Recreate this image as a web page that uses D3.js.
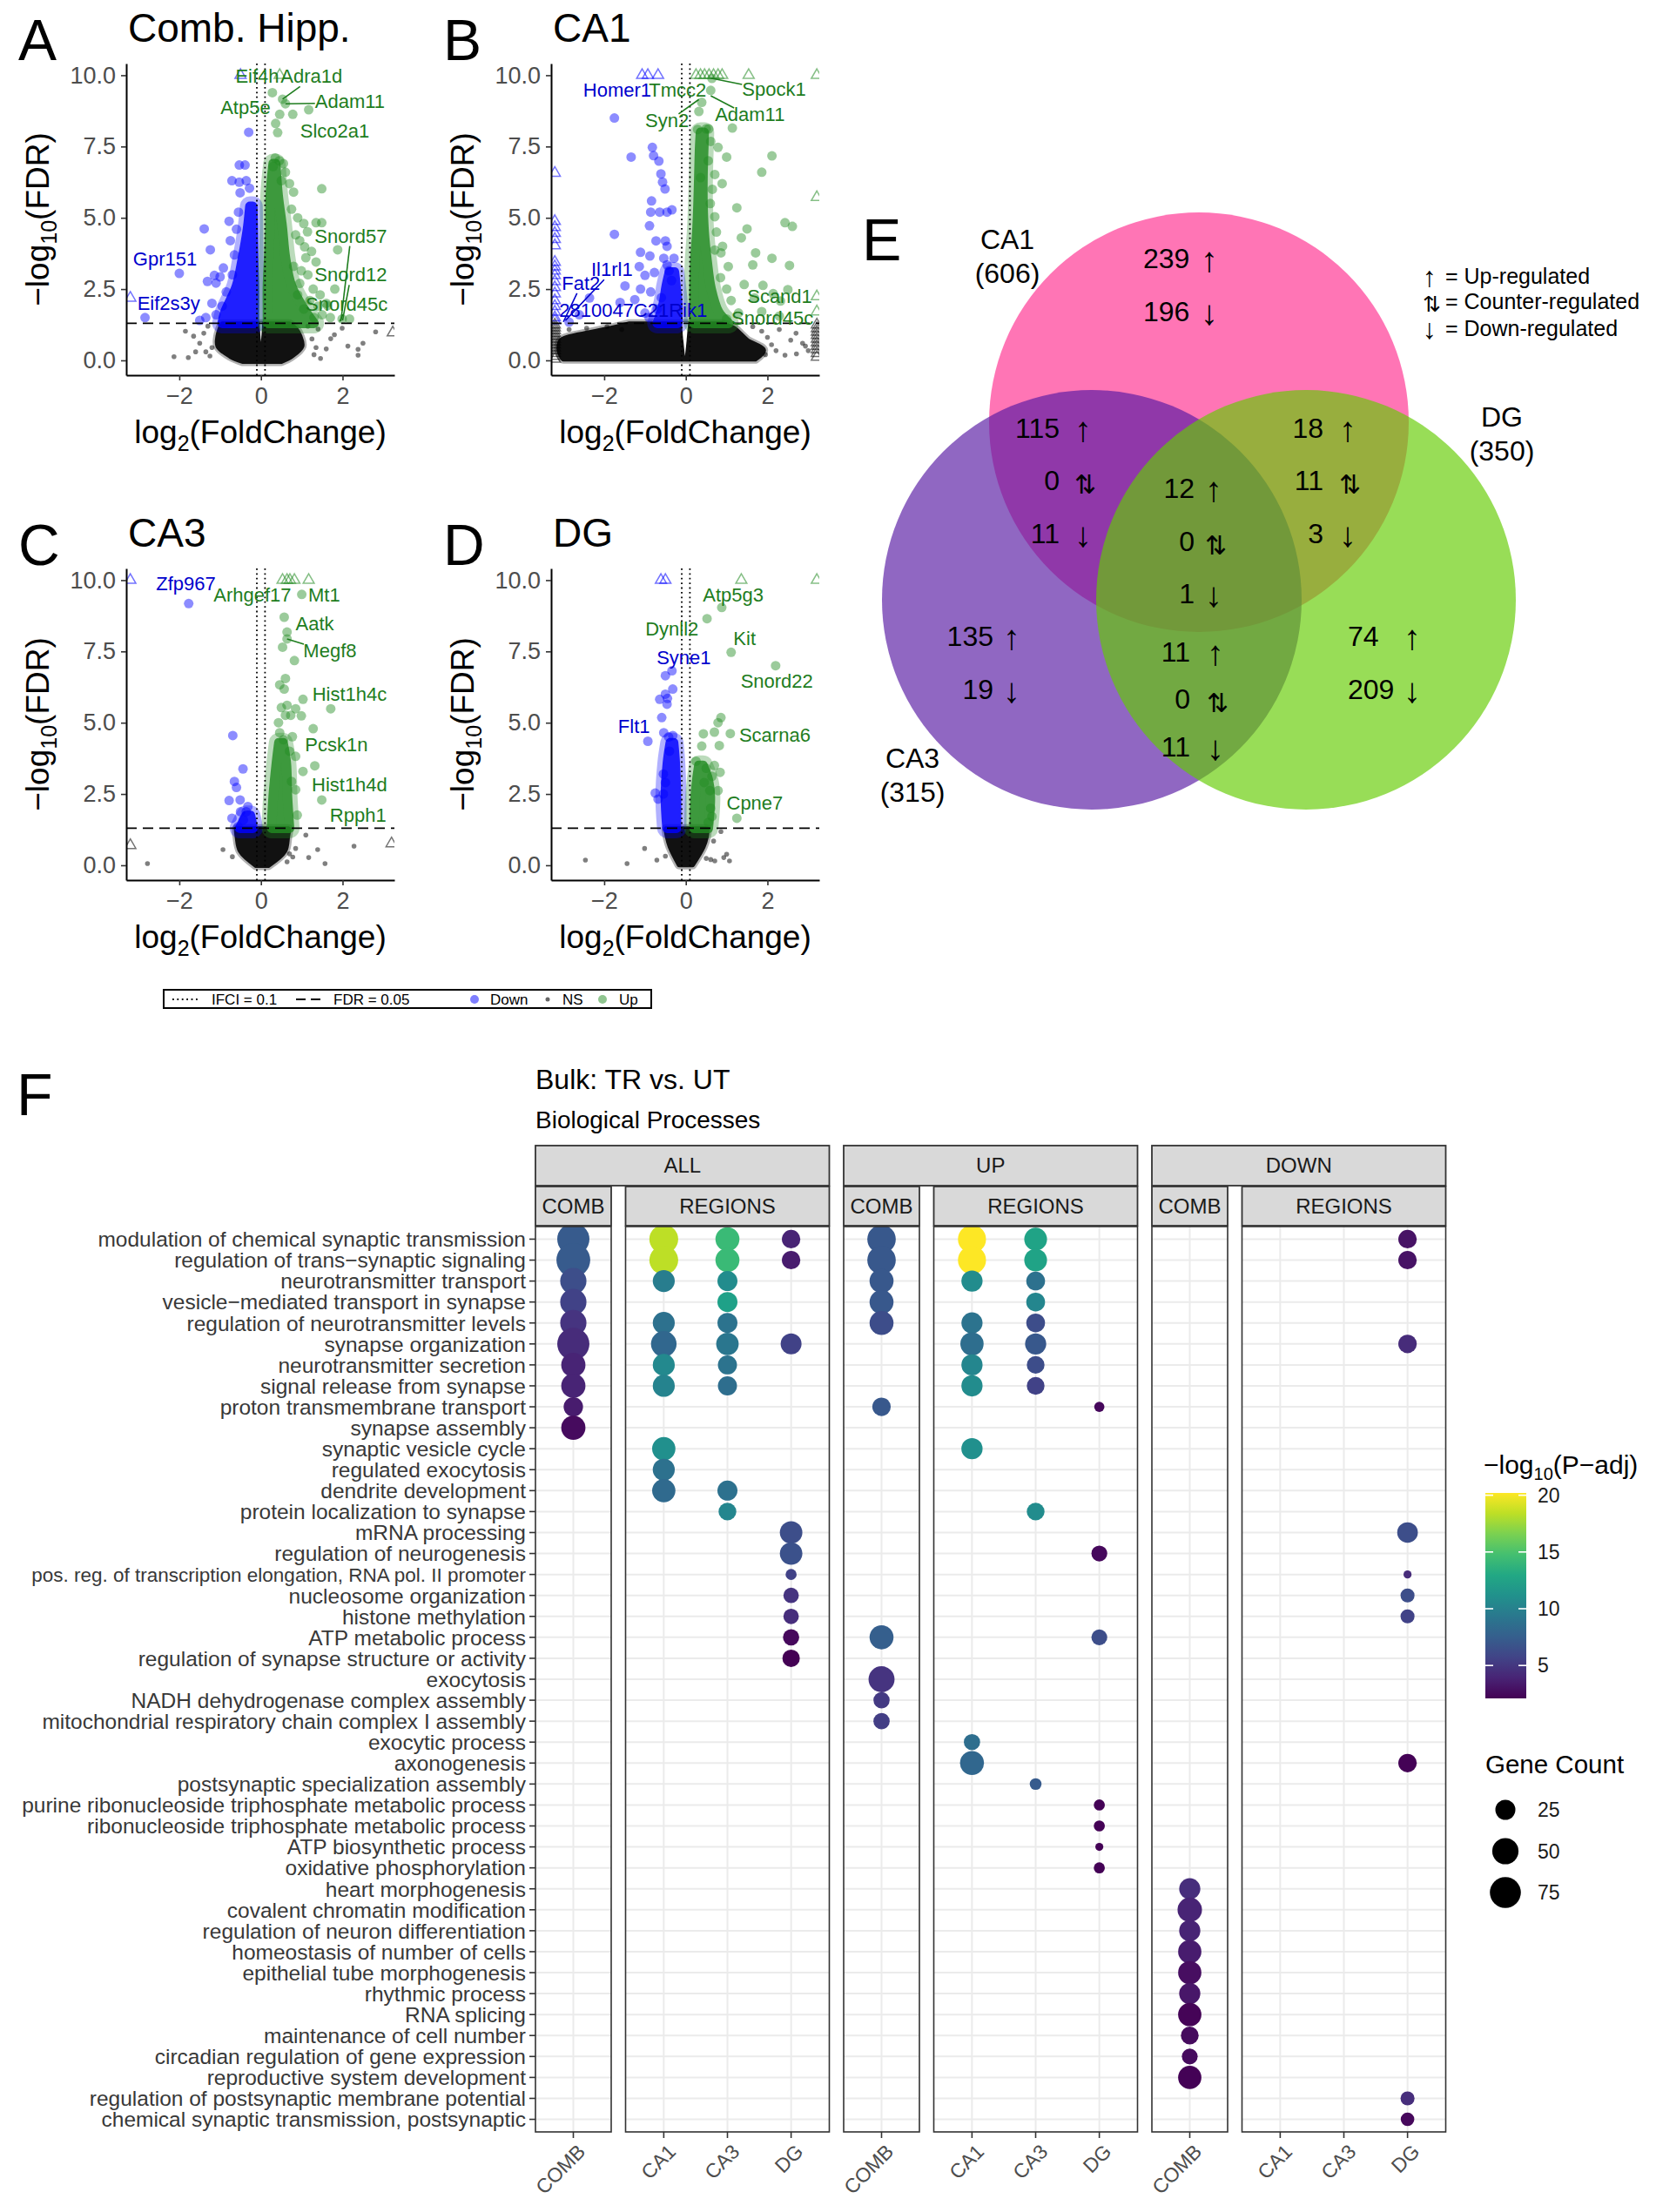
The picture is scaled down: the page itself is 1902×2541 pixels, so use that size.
<!DOCTYPE html>
<html>
<head>
<meta charset="utf-8">
<script src="https://cdn.jsdelivr.net/npm/d3@7"></script>
<style>
  body { margin: 0; background: #fff; }
  text { font-family: "Liberation Sans", Arial, Helvetica, sans-serif; }
</style>
</head>
<body>
<svg id="fig" width="1902" height="2541"></svg>
<script>
// ---------- volcano data: [log2FC, -log10 FDR] ----------
// dense cores: [-log10 FDR, left log2FC, right log2FC]
let nsCoreA = [[-0.03,-0.45,0.5],[0.15,-0.75,0.75],[0.5,-1.05,1.0],[0.85,-1.05,0.95],[1.1,-1.0,0.85],[1.27,-0.95,0.7]];
let nsGapA = [[0.65,0,0],[1.0,-0.02,0.02],[1.35,-0.035,0.035]];
let downCoreA = [[1.3,-0.95,-0.16],[1.7,-0.88,-0.16],[2.6,-0.6,-0.16],[3.6,-0.45,-0.18],[4.6,-0.33,-0.19],[5.4,-0.27,-0.2]];
let upCoreA = [[1.3,0.16,1.3],[1.7,0.16,1.1],[2.6,0.16,0.75],[3.6,0.19,0.6],[4.7,0.22,0.52],[5.8,0.23,0.42],[6.9,0.3,0.36]];
let upPtsA = [[0.28,9.39],[0.53,9.16],[0.6,9.0],[1.17,8.79],[0.78,8.63],[0.46,8.63],[0.36,8.31],[0.41,7.99],
  [1.49,6.02],[1.49,4.83],[1.14,4.51],[1.35,4.83],[1.88,3.88],[1.81,2.5],[2.17,1.45],[1.24,3.82],[1.07,3.98],
  [1.35,3.45],[1.28,2.5],[0.99,3.14],[1.63,1.92],[1.99,1.45],[0.35,7.1],[0.45,7.0],[0.55,6.9],[0.3,6.8],[0.6,6.6],
  [0.7,6.2],[0.5,6.3],[0.8,5.9],[0.75,5.3],[0.9,5.0],[1.05,4.8],[0.85,4.4],[0.95,4.2],[1.1,3.6],[0.8,3.3],[1.15,3.0],
  [0.95,2.7],[1.45,2.3],[1.2,2.1],[1.05,1.8],[1.5,1.6],[1.3,1.5],[0.9,2.3],[1.6,2.0],[1.7,1.5],[1.4,1.9]];
let downPtsA = [[-0.3,8.0],[-1.39,4.61],[-1.24,3.88],[-2.0,3.05],[-2.84,1.5],[-0.71,6.3],[-0.53,6.25],[-0.36,6.3],
  [-0.28,6.04],[-0.51,5.88],[-0.39,6.85],[-0.53,6.85],[-0.78,4.88],[-0.92,3.24],[-1.14,2.98],[-1.31,2.77],[-1.1,2.71],
  [-1.0,2.93],[-0.6,4.6],[-0.75,4.2],[-0.65,3.7],[-0.85,2.4],[-1.2,2.0],[-1.35,1.5],[-1.5,1.4],[-1.1,1.6],[-0.95,1.9],
  [-0.7,3.0],[-0.55,5.2]];
let nsPtsA = [[-2.13,0.13],[-1.78,0.1],[-1.85,1.02],[2.81,1.0],[2.38,0.39],[2.38,0.18],[2.13,0.5],[1.46,0.07],[1.71,0.76],
  [1.99,1.13],[-1.6,0.3],[-1.5,0.6],[1.6,0.4],[1.8,0.9],[1.3,0.2],[-1.65,0.85],[2.5,0.6],[1.4,1.1],[-1.3,1.2],[-1.25,0.15],
  [-1.4,0.95],[-1.2,0.45],[1.25,0.75],[1.15,1.2],[-1.35,0.3],[1.35,0.45]];
let downTriA = [[-0.5,10],[-3.2,2.19]];
let upTriA = [[0.46,10]];
let nsTriA = [[3.23,0.97]];
// labels: [gene, class, label log2FC, label -log10 FDR, point log2FC, point -log10 FDR]
let labelsA = [["Eif4h","up",-0.09,9.98],["Adra1d","up",1.24,9.96,0.53,9.16],["Atp5e","up",-0.38,8.87],
  ["Adam11","up",2.18,9.1,0.6,9.0],["Slco2a1","up",1.81,8.05],["Snord57","up",2.2,4.37,1.96,1.38],
  ["Snord12","up",2.2,3.0,2.0,1.4],["Snord45c","up",2.1,1.97,1.93,1.36],["Gpr151","down",-2.35,3.56],
  ["Eif2s3y","down",-2.26,2.0]];

let nsCoreB = [[0.05,-3.0,1.7],[0.35,-3.1,1.9],[0.7,-3.05,1.5],[0.9,-2.6,1.35],[1.1,-1.9,1.2],[1.27,-1.4,0.9]];
let nsGapB = [[0.15,-0.02,-0.02],[0.7,-0.06,0.02],[1.35,-0.1,0.06]];
let downCoreB = [[1.3,-0.7,-0.2],[2.0,-0.55,-0.2],[2.6,-0.48,-0.24],[3.1,-0.4,-0.28]];
let upCoreB = [[1.3,0.2,1.05],[1.7,0.2,0.8],[2.5,0.2,0.62],[3.5,0.22,0.52],[4.5,0.27,0.45],[5.5,0.3,0.42],[6.5,0.32,0.42],[7.5,0.34,0.44],[8.0,0.36,0.45]];
let downPtsB = [[-1.75,8.5],[-1.34,7.13],[-0.82,7.47],[-0.79,7.18],[-0.66,6.99],[-0.61,6.54],[-0.57,6.25],[-0.51,6.01],
  [-0.84,5.59],[-0.86,5.2],[-0.64,5.2],[-0.46,5.2],[-0.34,5.28],[-0.89,4.72],[-1.75,4.42],[-0.73,4.19],[-0.5,4.19],
  [-0.46,4.0],[-1.11,3.79],[-0.88,3.66],[-0.54,3.58],[-0.29,3.58],[-0.46,3.35],[-1.14,3.29],[-1.0,2.98],[-0.77,3.08],
  [-0.41,3.14],[-1.49,2.61],[-1.11,2.5],[-0.86,2.4],[-2.36,2.19],[-1.25,2.13],[-1.61,2.03],[-1.0,1.66],[-2.86,1.34],
  [-2.61,1.6],[-0.6,2.2],[-0.7,1.8],[-0.9,1.5],[-0.35,2.8]];
let upPtsB = [[0.64,9.89],[0.61,9.47],[0.39,9.05],[0.32,8.73],[0.5,8.12],[0.56,8.12],[0.29,8.1],[1.14,8.15],[0.61,7.68],
  [0.79,7.47],[1.0,7.13],[2.11,7.17],[1.86,6.6],[0.71,6.52],[0.89,6.2],[0.36,6.41],[1.25,5.35],[0.71,5.04],[1.5,4.61],
  [2.43,4.83],[2.61,4.7],[1.36,4.3],[1.71,3.77],[1.64,3.35],[2.11,3.58],[2.54,3.33],[1.04,3.29],[0.86,3.77],[0.71,3.87],
  [1.43,2.66],[1.89,2.63],[2.5,2.48],[2.14,2.34],[1.68,2.19],[1.11,2.1],[2.32,2.08],[1.29,1.66],[1.86,1.71],[2.29,1.55],
  [1.0,1.45],[0.55,7.0],[0.65,6.0],[0.6,5.5],[0.75,4.5],[0.9,4.0],[0.85,2.9],[1.0,2.5]];
let nsPtsB = [[2.57,0.71],[2.93,0.5],[2.71,0.23],[2.21,0.34],[1.86,1.02],[2.0,0.81],[2.43,0.18],[3.0,0.34],[2.86,0.6],
  [1.64,1.18],[2.29,1.08],[-2.86,1.08],[-2.43,1.13],[-1.93,1.18],[-1.57,1.08],[2.1,0.55],[1.95,0.2],[2.7,0.95]];
let downTriB = [[-1.07,10],[-0.93,10],[-0.68,10],[-3.21,6.57],[-3.21,4.88],[-3.21,4.67],[-3.21,4.46],[-3.21,4.25],
  [-3.21,4.03],[-3.21,3.45],[-3.21,3.29],[-3.21,3.14],[-3.21,2.98],[-3.21,2.77],[-3.21,2.56],[-3.21,2.34],[-3.21,2.1],
  [-3.21,1.9],[-3.21,1.7],[-3.21,1.5],[-3.21,1.4]];
let upTriB = [[0.25,10],[0.36,10],[0.46,10],[0.57,10],[0.68,10],[0.79,10],[0.89,10],[1.54,10],[3.21,10],[3.21,5.72],[3.21,2.24],[3.21,1.71]];
let nsTriB = [[3.21,1.25],[3.21,1.12],[3.21,1.0],[3.21,0.88],[3.21,0.75],[3.21,0.62],[3.21,0.5],[3.21,0.38],[3.21,0.25],
  [3.21,0.12],[-3.21,1.25],[-3.21,1.15],[-3.21,1.05],[-3.21,0.95],[-3.21,0.85],[-3.21,0.75],[-3.21,0.65],[-3.21,0.55],
  [-3.21,0.45],[-3.21,0.35],[-3.21,0.25],[-3.21,0.15],[-3.21,0.05]];
let labelsB = [["Homer1","down",-1.68,9.47],["Tmcc2","up",-0.2,9.47],["Spock1","up",2.16,9.52,0.61,9.9],
  ["Syn2","up",-0.46,8.42,0.32,9.15],["Adam11","up",1.57,8.63,0.61,9.28],["Il1rl1","down",-1.81,3.19,-2.95,1.4],
  ["Fat2","down",-2.57,2.71,-3.0,1.35],["2810047C21Rik1","down",-1.29,1.76],["Scand1","up",2.3,2.26],
  ["Snord45c","up",2.12,1.5]];

let nsCoreC = [[0.0,-0.12,0.18],[0.5,-0.5,0.58],[1.0,-0.58,0.65],[1.27,-0.6,0.68]];
let downCoreC = [[1.3,-0.52,-0.2],[1.5,-0.45,-0.22],[1.75,-0.36,-0.26]];
let upCoreC = [[1.3,0.26,0.7],[2.4,0.3,0.65],[3.6,0.38,0.62],[4.3,0.44,0.54]];
let downPtsC = [[-1.77,9.18],[-0.69,4.55],[-0.44,3.38],[-0.65,2.94],[-0.6,2.73],[-0.78,2.27],[-0.51,2.29],[-0.32,2.06],
  [-0.71,1.65],[-0.5,1.88],[-0.36,1.88],[-0.43,1.59],[-0.56,1.35]];
let upPtsC = [[1.0,9.5],[0.57,8.7],[0.64,8.18],[0.64,7.94],[0.53,7.65],[0.82,7.18],[0.6,6.55],[0.46,6.33],[0.57,6.18],
  [1.03,5.82],[1.71,5.49],[0.5,5.53],[0.64,5.61],[0.85,5.49],[0.99,5.24],[0.43,5.0],[0.6,5.26],[0.73,5.26],[1.28,4.79],
  [0.77,4.51],[0.46,4.65],[1.32,3.49],[1.03,3.29],[0.85,3.82],[0.75,2.94],[0.85,2.65],[1.49,2.29],[0.89,1.76],[0.7,4.0],[0.55,4.4]];
let nsPtsC = [[-0.93,0.55],[-2.78,0.06],[1.1,1.06],[0.85,0.59],[0.78,0.29],[0.64,0.12],[1.17,0.27],[1.39,0.55],[1.57,0.06],
  [2.28,0.67],[0.7,0.4],[-0.7,0.3]];
let downTriC = [[-3.2,10]];
let upTriC = [[0.53,10],[0.64,10],[0.71,10],[0.82,10],[1.17,10]];
let nsTriC = [[-3.2,0.7],[3.2,0.76]];
let labelsC = [["Zfp967","down",-1.84,9.88],["Arhgef17","up",-0.21,9.47],["Mt1","up",1.55,9.47],["Aatk","up",1.32,8.49],
  ["Megf8","up",1.69,7.53,0.64,7.94],["Hist1h4c","up",2.17,6.0],["Pcsk1n","up",1.85,4.24],["Hist1h4d","up",2.17,2.82],
  ["Rpph1","up",2.38,1.76]];

let nsCoreD = [[0.02,-0.16,0.16],[0.65,-0.38,0.42],[1.0,-0.45,0.5],[1.27,-0.48,0.52]];
let downCoreD = [[1.3,-0.46,-0.23],[2.4,-0.5,-0.23],[3.6,-0.45,-0.26],[4.3,-0.38,-0.3]];
let upCoreD = [[1.3,0.2,0.55],[2.4,0.23,0.6],[3.0,0.27,0.55],[3.5,0.32,0.42]];
let downPtsD = [[-0.5,6.65],[-0.34,6.82],[-0.32,6.18],[-0.5,6.0],[-0.64,5.82],[-0.46,5.65],[-0.59,5.18],[-0.93,4.35],
  [-0.54,4.65],[-0.32,4.55],[-0.42,4.5],[-0.75,2.53],[-0.68,2.32],[-0.55,2.5],[-0.45,5.85],[-0.4,4.0],[-0.55,3.2],[-0.5,2.9]];
let upPtsD = [[0.88,9.04],[0.52,8.65],[1.11,7.47],[2.2,7.0],[0.86,5.18],[0.79,5.0],[0.7,4.67],[1.09,4.62],[0.43,4.61],
  [0.82,4.2],[0.39,4.18],[0.25,3.65],[0.84,3.26],[0.64,3.12],[0.79,2.62],[0.59,2.62],[1.25,1.65],[0.61,2.0],[0.64,1.71],
  [0.5,3.4],[0.7,3.5],[0.45,2.9],[0.55,1.5]];
let nsPtsD = [[-2.46,0.18],[-1.44,0.06],[-1.01,0.59],[-0.71,0.18],[-0.5,0.32],[0.68,0.85],[0.86,1.18],[0.93,0.27],
  [1.0,0.39],[1.07,0.15],[0.5,0.24],[0.61,0.2],[0.71,0.15]];
let downTriD = [[-0.61,10],[-0.5,10]];
let upTriD = [[1.36,10],[3.21,10]];
let labelsD = [["Atp5g3","up",1.16,9.49],["Dynll2","up",-0.34,8.29],["Kit","up",1.44,7.96],["Syne1","down",-0.05,7.29],
  ["Snord22","up",2.23,6.45],["Flt1","down",-1.27,4.88],["Scarna6","up",2.18,4.56],["Cpne7","up",1.69,2.18]];

let fcDomain = [-3.3, 3.27];
let fdrDomain = [-0.52, 10.41];
let fdrTicks = [0, 2.5, 5, 7.5, 10];
let fcTicks = [-2, 0, 2];
let fcCut = 0.1;
let fdrCut = 1.301;

// ---------- Venn data ----------
let vennSets = ["CA1", "CA3", "DG"];
let vennTotals = [606, 315, 350];
let vennRegions = ["CA1", "CA1&CA3", "CA1&DG", "CA1&CA3&DG", "CA3", "CA3&DG", "DG"];
let vennUp = [239, 115, 18, 12, 135, 11, 74];
let vennCounter = [null, 0, 11, 0, null, 0, null];
let vennDown = [196, 11, 3, 1, 19, 11, 209];

// ---------- GO dot plot data ----------
let goTerms = ["modulation of chemical synaptic transmission","regulation of trans\u2212synaptic signaling",
  "neurotransmitter transport","vesicle\u2212mediated transport in synapse","regulation of neurotransmitter levels",
  "synapse organization","neurotransmitter secretion","signal release from synapse","proton transmembrane transport",
  "synapse assembly","synaptic vesicle cycle","regulated exocytosis","dendrite development",
  "protein localization to synapse","mRNA processing","regulation of neurogenesis",
  "pos. reg. of transcription elongation, RNA pol. II promoter","nucleosome organization","histone methylation",
  "ATP metabolic process","regulation of synapse structure or activity","exocytosis",
  "NADH dehydrogenase complex assembly","mitochondrial respiratory chain complex I assembly","exocytic process",
  "axonogenesis","postsynaptic specialization assembly","purine ribonucleoside triphosphate metabolic process",
  "ribonucleoside triphosphate metabolic process","ATP biosynthetic process","oxidative phosphorylation",
  "heart morphogenesis","covalent chromatin modification","regulation of neuron differentiation",
  "homeostasis of number of cells","epithelial tube morphogenesis","rhythmic process","RNA splicing",
  "maintenance of cell number","circadian regulation of gene expression","reproductive system development",
  "regulation of postsynaptic membrane potential","chemical synaptic transmission, postsynaptic"];
// [term number, column, -log10(P-adj), gene count]
let allDots = [[1,"COMB",7.2,82],[2,"COMB",7.2,92],[3,"COMB",6.4,50],[4,"COMB",5.7,50],[5,"COMB",4.8,50],
  [6,"COMB",4.3,82],[7,"COMB",3.9,41],[8,"COMB",3.9,41],[9,"COMB",3.5,23],[10,"COMB",2.6,41],
  [1,"CA1",18.4,63],[2,"CA1",18.4,63],[3,"CA1",9.7,32],[5,"CA1",8.8,32],[6,"CA1",8.1,47],[7,"CA1",10.6,32],
  [8,"CA1",10.2,32],[11,"CA1",11.1,37],[12,"CA1",8.8,32],[13,"CA1",8.3,37],
  [1,"CA3",14.4,40],[2,"CA3",14.4,40],[3,"CA3",10.8,25],[4,"CA3",12.4,25],[5,"CA3",9.0,25],[6,"CA3",9.2,34],
  [7,"CA3",9.0,22],[8,"CA3",8.6,22],[13,"CA3",8.8,25],[14,"CA3",10.4,18],
  [1,"DG",3.9,20],[2,"DG",3.5,20],[6,"DG",5.7,28],[15,"DG",6.4,34],[16,"DG",6.6,34],[17,"DG",5.7,4],
  [18,"DG",4.8,12],[19,"DG",4.5,12],[20,"DG",2.5,14],[21,"DG",2.1,17]];
let upDots = [[1,"COMB",7.0,61],[2,"COMB",7.0,61],[3,"COMB",7.0,40],[4,"COMB",7.0,40],[5,"COMB",6.3,40],
  [9,"COMB",7.0,20],[20,"COMB",7.5,40],[22,"COMB",4.8,49],[23,"COMB",5.2,14],[24,"COMB",5.4,14],
  [1,"CA1",20.2,59],[2,"CA1",20.2,59],[3,"CA1",10.8,29],[5,"CA1",9.0,29],[6,"CA1",8.6,37],[7,"CA1",10.4,29],
  [8,"CA1",10.8,29],[11,"CA1",11.1,29],[25,"CA1",8.6,14],[26,"CA1",8.1,40],
  [1,"CA3",12.6,35],[2,"CA3",12.6,35],[3,"CA3",8.8,21],[4,"CA3",10.4,21],[5,"CA3",6.3,21],[6,"CA3",7.0,29],
  [7,"CA3",6.3,18],[8,"CA3",5.7,18],[14,"CA3",10.8,18],[27,"CA3",7.2,5],
  [9,"DG",2.5,3],[16,"DG",2.5,13],[20,"DG",6.4,13],[28,"DG",2.2,4],[29,"DG",2.2,4],[30,"DG",2.2,1],[31,"DG",2.2,4]];
let downDots = [[32,"COMB",4.5,29],[33,"COMB",3.9,42],[34,"COMB",3.9,29],[35,"COMB",3.5,37],[36,"COMB",2.8,37],
  [37,"COMB",3.2,29],[38,"COMB",2.3,37],[39,"COMB",2.6,18],[40,"COMB",2.6,13],[41,"COMB",2.2,37],
  [1,"DG",3.0,20],[2,"DG",3.0,20],[6,"DG",4.3,20],[15,"DG",6.4,27],[17,"DG",4.3,1],[18,"DG",6.4,9],
  [19,"DG",5.7,9],[26,"DG",2.2,20],[42,"DG",4.5,9],[43,"DG",2.5,8]];
let groupNames = ["ALL", "UP", "DOWN"];
let regionCols = ["CA1", "CA3", "DG"];
let padjRange = [2.1, 20.2];
let padjTicks = [5, 10, 15, 20];
let countBreaks = [25, 50, 75];

// ---------- drawing ----------
let svg = d3.select("#fig");
svg.append("rect").attr("width", 1902).attr("height", 2541).attr("fill", "#fff");
let defs = svg.append("defs");
let BLUE = "#0000FF", GREEN = "#228B22", BLUE_TXT = "#0000CD", GREEN_TXT = "#1E7D1E";

function styleAxis(a, fs) {
    a.select(".domain").attr("stroke", "#000").attr("stroke-width", 2);
    a.selectAll(".tick line").attr("stroke", "#333").attr("stroke-width", 1.6);
    a.selectAll(".tick text").attr("fill", "#4D4D4D").attr("font-size", fs)
        .attr("font-family", "'Liberation Sans', Arial, sans-serif");
}

function drawVolcano(p) {
    let w = 308, h = 358;
    let x = d3.scaleLinear().domain(fcDomain).range([0, w]);
    let y = d3.scaleLinear().domain(fdrDomain).range([h, 0]);
    let g = svg.append("g").attr("transform", "translate(" + p.left + "," + p.top + ")");
    defs.append("clipPath").attr("id", "clip" + p.key).append("rect").attr("width", w).attr("height", h);
    let plot = g.append("g").attr("clip-path", "url(#clip" + p.key + ")");
    let area = d3.area().curve(d3.curveCatmullRom).y(d => y(d[0])).x0(d => x(d[1])).x1(d => x(d[2]));
    // a dense cloud: soft halo of half-transparent dots plus a solid centre
    let core = (data, col, sw, halo, op) => {
        plot.append("path").datum(data).attr("d", area)
            .attr("fill", col).attr("stroke", col).attr("stroke-width", sw + halo)
            .attr("stroke-linejoin", "round").attr("opacity", 0.3);
        plot.append("path").datum(data).attr("d", area)
            .attr("fill", col).attr("stroke", col).attr("stroke-width", sw)
            .attr("stroke-linejoin", "round").attr("opacity", op);
    };
    let dots = (data, col, r, op) => plot.append("g").selectAll("circle").data(data).join("circle")
        .attr("cx", d => x(d[0])).attr("cy", d => y(d[1])).attr("r", r)
        .attr("fill", col).attr("fill-opacity", op);
    let tri = d3.symbol(d3.symbolTriangle, 70);
    let tris = (data, col) => plot.append("g").selectAll("path").data(data).join("path")
        .attr("transform", d => "translate(" + x(d[0]) + "," + y(d[1]) + ")").attr("d", tri)
        .attr("fill", "none").attr("stroke", col).attr("stroke-opacity", 0.55).attr("stroke-width", 1.5);

    core(p.nsCore, "#000", 6, 5, 0.9);
    if (p.nsGap) plot.append("path").datum(p.nsGap).attr("d", area).attr("fill", "#fff");
    dots(p.nsPts, "#000", 2.8, 0.5);
    tris(p.nsTri, "#000");
    core(p.downCore, BLUE, 11, 12, 0.82);
    core(p.upCore, GREEN, 11, 12, 0.82);
    dots(p.downPts, BLUE, 5.5, 0.45);
    dots(p.upPts, GREEN, 5.5, 0.45);
    tris(p.downTri, BLUE);
    tris(p.upTri, GREEN);

    plot.selectAll("line.fc").data([-fcCut, fcCut]).join("line")
        .attr("x1", d => x(d)).attr("x2", d => x(d)).attr("y1", 0).attr("y2", h)
        .attr("stroke", "#000").attr("stroke-width", 1.8).attr("stroke-dasharray", "1.8,3.6");
    plot.append("line").attr("x1", 0).attr("x2", w).attr("y1", y(fdrCut)).attr("y2", y(fdrCut))
        .attr("stroke", "#000").attr("stroke-width", 1.8).attr("stroke-dasharray", "12,7");

    p.labels.forEach(l => {
        let col = l[1] == "up" ? GREEN_TXT : BLUE_TXT;
        let t = plot.append("text").attr("x", x(l[2])).attr("y", y(l[3])).attr("dy", "0.35em")
            .attr("text-anchor", "middle").attr("font-size", 22).attr("fill", col).text(l[0]);
        if (l.length > 4) {
            let b = t.node().getBBox();
            let px = x(l[4]), py = y(l[5]);
            let cx = b.x + b.width / 2, cy = b.y + b.height / 2 + 2;
            let dx = cx - px, dy = cy - py;
            let s = Math.min(b.width / 2 / Math.max(Math.abs(dx), 1e-6), (b.height / 2 - 3) / Math.max(Math.abs(dy), 1e-6));
            plot.append("line").attr("x1", px).attr("y1", py).attr("x2", cx - dx * s).attr("y2", cy - dy * s)
                .attr("stroke", col).attr("stroke-width", 1.6);
        }
    });

    let ya = g.append("g").call(d3.axisLeft(y).tickValues(fdrTicks).tickFormat(d3.format(".1f"))
        .tickSize(6).tickSizeOuter(0).tickPadding(6));
    styleAxis(ya, 27);
    let xa = g.append("g").attr("transform", "translate(0," + h + ")")
        .call(d3.axisBottom(x).tickValues(fcTicks).tickFormat(d => d < 0 ? "\u2212" + (-d) : d)
        .tickSize(6).tickSizeOuter(0).tickPadding(8));
    styleAxis(xa, 27);

    svg.append("text").attr("x", p.left - 124).attr("y", p.top - 4).attr("font-size", 66).text(p.key);
    svg.append("text").attr("x", p.left + 2).attr("y", p.top - 25).attr("font-size", 46).text(p.title);

    let xt = svg.append("text").attr("x", p.left + w / 2).attr("y", p.top + h + 78)
        .attr("text-anchor", "middle").attr("font-size", 37);
    xt.append("tspan").text("log");
    xt.append("tspan").attr("font-size", 25).attr("dy", 9).text("2");
    xt.append("tspan").attr("dy", -9).text("(FoldChange)");
    let yt = svg.append("text").attr("transform", "translate(" + (p.left - 89) + "," + (p.top + h / 2) + ") rotate(-90)")
        .attr("text-anchor", "middle").attr("font-size", 37);
    yt.append("tspan").text("\u2212log");
    yt.append("tspan").attr("font-size", 25).attr("dy", 9).text("10");
    yt.append("tspan").attr("dy", -9).text("(FDR)");
}

let volcanoPanels = [
    {key: "A", title: "Comb. Hipp.", left: 145, top: 73, nsCore: nsCoreA, nsGap: nsGapA, downCore: downCoreA, upCore: upCoreA,
     nsPts: nsPtsA, downPts: downPtsA, upPts: upPtsA, nsTri: nsTriA, downTri: downTriA, upTri: upTriA, labels: labelsA},
    {key: "B", title: "CA1", left: 633, top: 73, nsCore: nsCoreB, nsGap: nsGapB, downCore: downCoreB, upCore: upCoreB,
     nsPts: nsPtsB, downPts: downPtsB, upPts: upPtsB, nsTri: nsTriB, downTri: downTriB, upTri: upTriB, labels: labelsB},
    {key: "C", title: "CA3", left: 145, top: 653, nsCore: nsCoreC, downCore: downCoreC, upCore: upCoreC,
     nsPts: nsPtsC, downPts: downPtsC, upPts: upPtsC, nsTri: nsTriC, downTri: downTriC, upTri: upTriC, labels: labelsC},
    {key: "D", title: "DG", left: 633, top: 653, nsCore: nsCoreD, downCore: downCoreD, upCore: upCoreD,
     nsPts: nsPtsD, downPts: downPtsD, upPts: upPtsD, nsTri: [], downTri: downTriD, upTri: upTriD, labels: labelsD}
];
volcanoPanels.forEach(drawVolcano);

// volcano legend
let vl = svg.append("g");
vl.append("rect").attr("x", 188).attr("y", 1137).attr("width", 560).attr("height", 21)
    .attr("fill", "#fff").attr("stroke", "#000").attr("stroke-width", 2);
vl.append("line").attr("x1", 198).attr("x2", 229).attr("y1", 1148).attr("y2", 1148)
    .attr("stroke", "#000").attr("stroke-width", 1.8).attr("stroke-dasharray", "1.8,3.6");
vl.append("line").attr("x1", 340).attr("x2", 368).attr("y1", 1148).attr("y2", 1148)
    .attr("stroke", "#000").attr("stroke-width", 1.8).attr("stroke-dasharray", "11,6");
vl.append("circle").attr("cx", 545).attr("cy", 1148).attr("r", 5).attr("fill", BLUE).attr("fill-opacity", 0.5);
vl.append("circle").attr("cx", 629).attr("cy", 1148).attr("r", 2.5).attr("fill", "#000").attr("fill-opacity", 0.6);
vl.append("circle").attr("cx", 692).attr("cy", 1148).attr("r", 5).attr("fill", GREEN).attr("fill-opacity", 0.5);
[["IFCI = 0.1", 243], ["FDR = 0.05", 383], ["Down", 563], ["NS", 646], ["Up", 711]].forEach(d => {
    vl.append("text").attr("x", d[1]).attr("y", 1154).attr("font-size", 17).text(d[0]);
});

// ---------- Venn (E) ----------
let vennCenter = {CA1: [1377, 485], CA3: [1254, 689], DG: [1500, 689]};
let vennR = 241;
let vennFill = d3.scaleOrdinal().domain(vennSets).range(["#FF2E8F", "#5719A3", "#63CB00"]);
svg.append("g").selectAll("circle").data(vennSets).join("circle")
    .attr("cx", d => vennCenter[d][0]).attr("cy", d => vennCenter[d][1]).attr("r", vennR)
    .attr("fill", d => vennFill(d)).attr("fill-opacity", 0.66);
svg.append("text").attr("x", 990).attr("y", 299).attr("font-size", 68).text("E");
let vennSetLabel = {CA1: [1157, 286], CA3: [1048, 882], DG: [1725, 490]};
vennSets.forEach((s, i) => {
    let t = svg.append("text").attr("text-anchor", "middle").attr("font-size", 32);
    t.append("tspan").attr("x", vennSetLabel[s][0]).attr("y", vennSetLabel[s][1]).text(s);
    t.append("tspan").attr("x", vennSetLabel[s][0]).attr("y", vennSetLabel[s][1] + 39).text("(" + vennTotals[i] + ")");
});
let vennLayout = {
    "CA1": {nx: 1313, anchor: "start", ax: 1379, ys: [308, 369]},
    "CA1&CA3": {nx: 1217, anchor: "end", ax: 1234, ys: [503, 563, 624]},
    "CA1&DG": {nx: 1520, anchor: "end", ax: 1538, ys: [503, 563, 624]},
    "CA1&CA3&DG": {nx: 1372, anchor: "end", ax: 1384, ys: [572, 633, 693]},
    "CA3": {nx: 1141, anchor: "end", ax: 1152, ys: [742, 803]},
    "CA3&DG": {nx: 1367, anchor: "end", ax: 1386, ys: [760, 814, 869]},
    "DG": {nx: 1548, anchor: "start", ax: 1612, ys: [742, 803]}
};
vennRegions.forEach((r, i) => {
    let L = vennLayout[r];
    let rows = [[vennUp[i], "\u2191"]];
    if (vennCounter[i] !== null) rows.push([vennCounter[i], "\u21C5"]);
    rows.push([vennDown[i], "\u2193"]);
    rows.forEach((row, k) => {
        svg.append("text").attr("x", L.nx).attr("y", L.ys[k]).attr("text-anchor", L.anchor)
            .attr("font-size", 32).text(row[0]);
        svg.append("text").attr("x", L.ax).attr("y", L.ys[k] + 4).attr("font-size", row[1] == "\u21C5" ? 30 : 40)
            .text(row[1]);
    });
});
[["\u2191", "= Up-regulated", 326], ["\u21C5", "= Counter-regulated", 355], ["\u2193", "= Down-regulated", 386]].forEach(d => {
    svg.append("text").attr("x", 1634).attr("y", d[2] + 3).attr("font-size", d[0] == "\u21C5" ? 25 : 32).text(d[0]);
    svg.append("text").attr("x", 1660).attr("y", d[2]).attr("font-size", 25).text(d[1]);
});

// ---------- GO dot plot (F) ----------
svg.append("text").attr("x", 19).attr("y", 1281).attr("font-size", 68).text("F");
svg.append("text").attr("x", 615).attr("y", 1251).attr("font-size", 32).text("Bulk: TR vs. UT");
svg.append("text").attr("x", 615).attr("y", 1296).attr("font-size", 28).text("Biological Processes");

let fLeft = 615, combW = 87, regW = 234, innerGap = 16.5, groupStep = 354;
let fTop = 1409, fBottom = 2449;
let yTerm = d3.scalePoint().domain(goTerms).range([fTop, fBottom]).padding(0.6);
let color = d3.scaleSequential(d3.interpolateViridis).domain(padjRange);
let size = d3.scaleSqrt().domain([25, 75]).range([11.5, 17.8]);
let groupDots = {ALL: allDots, UP: upDots, DOWN: downDots};

groupNames.forEach((gn, gi) => {
    let combL = fLeft + gi * groupStep;
    let regL = combL + combW + innerGap;
    let facets = [{name: "COMB", l: combL, w: combW, cols: ["COMB"]},
                  {name: "REGIONS", l: regL, w: regW, cols: regionCols}];
    facets.forEach(f => {
        let x = d3.scalePoint().domain(f.cols).range([f.l, f.l + f.w]).padding(0.6);
        let pg = svg.append("g");
        pg.selectAll("line.h").data(goTerms).join("line")
            .attr("x1", f.l).attr("x2", f.l + f.w).attr("y1", d => yTerm(d)).attr("y2", d => yTerm(d))
            .attr("stroke", "#EBEBEB").attr("stroke-width", 2);
        pg.selectAll("line.v").data(f.cols).join("line")
            .attr("x1", d => x(d)).attr("x2", d => x(d)).attr("y1", fTop).attr("y2", fBottom)
            .attr("stroke", "#EBEBEB").attr("stroke-width", 2);
        pg.selectAll("circle").data(groupDots[gn].filter(d => f.cols.includes(d[1]))).join("circle")
            .attr("cx", d => x(d[1])).attr("cy", d => yTerm(goTerms[d[0] - 1]))
            .attr("r", d => size(d[3])).attr("fill", d => color(d[2]));
        pg.append("rect").attr("x", f.l).attr("y", fTop).attr("width", f.w).attr("height", fBottom - fTop)
            .attr("fill", "none").attr("stroke", "#333").attr("stroke-width", 1.6);
        // strip
        pg.append("rect").attr("x", f.l).attr("y", 1363).attr("width", f.w).attr("height", 45)
            .attr("fill", "#D9D9D9").attr("stroke", "#333").attr("stroke-width", 1.8);
        pg.append("text").attr("x", f.l + f.w / 2).attr("y", 1394).attr("text-anchor", "middle")
            .attr("font-size", 24).attr("fill", "#1A1A1A").text(f.name);
        // x ticks + rotated labels
        pg.selectAll("line.t").data(f.cols).join("line")
            .attr("x1", d => x(d)).attr("x2", d => x(d)).attr("y1", fBottom).attr("y2", fBottom + 7)
            .attr("stroke", "#333").attr("stroke-width", 1.6);
        pg.selectAll("text.xl").data(f.cols).join("text")
            .attr("transform", d => "translate(" + (x(d) + 3) + "," + (fBottom + 12) + ") rotate(-45)")
            .attr("dy", "0.75em").attr("text-anchor", "end").attr("font-size", 23).attr("fill", "#4D4D4D")
            .text(d => d);
    });
    svg.append("rect").attr("x", combL).attr("y", 1316).attr("width", regL + regW - combL).attr("height", 46)
        .attr("fill", "#D9D9D9").attr("stroke", "#333").attr("stroke-width", 1.8);
    svg.append("text").attr("x", (combL + regL + regW) / 2).attr("y", 1347).attr("text-anchor", "middle")
        .attr("font-size", 24).attr("fill", "#1A1A1A").text(gn);
});

// y axis of dot plot (the one very long term is set a little smaller, as in the figure)
let ay = svg.append("g");
ay.selectAll("line").data(goTerms).join("line")
    .attr("x1", fLeft - 7).attr("x2", fLeft).attr("y1", d => yTerm(d)).attr("y2", d => yTerm(d))
    .attr("stroke", "#333").attr("stroke-width", 1.6);
ay.selectAll("text").data(goTerms).join("text")
    .attr("x", fLeft - 11).attr("y", d => yTerm(d)).attr("dy", "0.36em").attr("text-anchor", "end")
    .attr("font-size", d => d.length > 55 ? 22.5 : 24.5).attr("fill", "#383838").text(d => d);

// colour bar legend
let grad = defs.append("linearGradient").attr("id", "vir").attr("x1", 0).attr("y1", 1).attr("x2", 0).attr("y2", 0);
d3.range(0, 1.0001, 0.1).forEach(t => grad.append("stop").attr("offset", t).attr("stop-color", d3.interpolateViridis(t)));
let cbY = d3.scaleLinear().domain(padjRange).range([1951, 1715]);
let ct = svg.append("text").attr("x", 1704).attr("y", 1693).attr("font-size", 30);
ct.append("tspan").text("\u2212log");
ct.append("tspan").attr("font-size", 20).attr("dy", 7).text("10");
ct.append("tspan").attr("dy", -7).text("(P\u2212adj)");
svg.append("rect").attr("x", 1706).attr("y", cbY(padjRange[1])).attr("width", 47)
    .attr("height", cbY(padjRange[0]) - cbY(padjRange[1])).attr("fill", "url(#vir)");
padjTicks.forEach(v => {
    [[1706, 1715], [1744, 1753]].forEach(xx => svg.append("line").attr("x1", xx[0]).attr("x2", xx[1])
        .attr("y1", cbY(v)).attr("y2", cbY(v)).attr("stroke", "#fff").attr("stroke-width", 1.6));
    svg.append("text").attr("x", 1766).attr("y", cbY(v)).attr("dy", "0.36em").attr("font-size", 23)
        .attr("fill", "#1A1A1A").text(v);
});

// size legend
svg.append("text").attr("x", 1706).attr("y", 2037).attr("font-size", 29.5).text("Gene Count");
countBreaks.forEach((c, i) => {
    let cy = 2079 + i * 47.5;
    svg.append("circle").attr("cx", 1729).attr("cy", cy).attr("r", size(c)).attr("fill", "#000");
    svg.append("text").attr("x", 1766).attr("y", cy).attr("dy", "0.36em").attr("font-size", 23)
        .attr("fill", "#1A1A1A").text(c);
});
</script>
</body>
</html>
